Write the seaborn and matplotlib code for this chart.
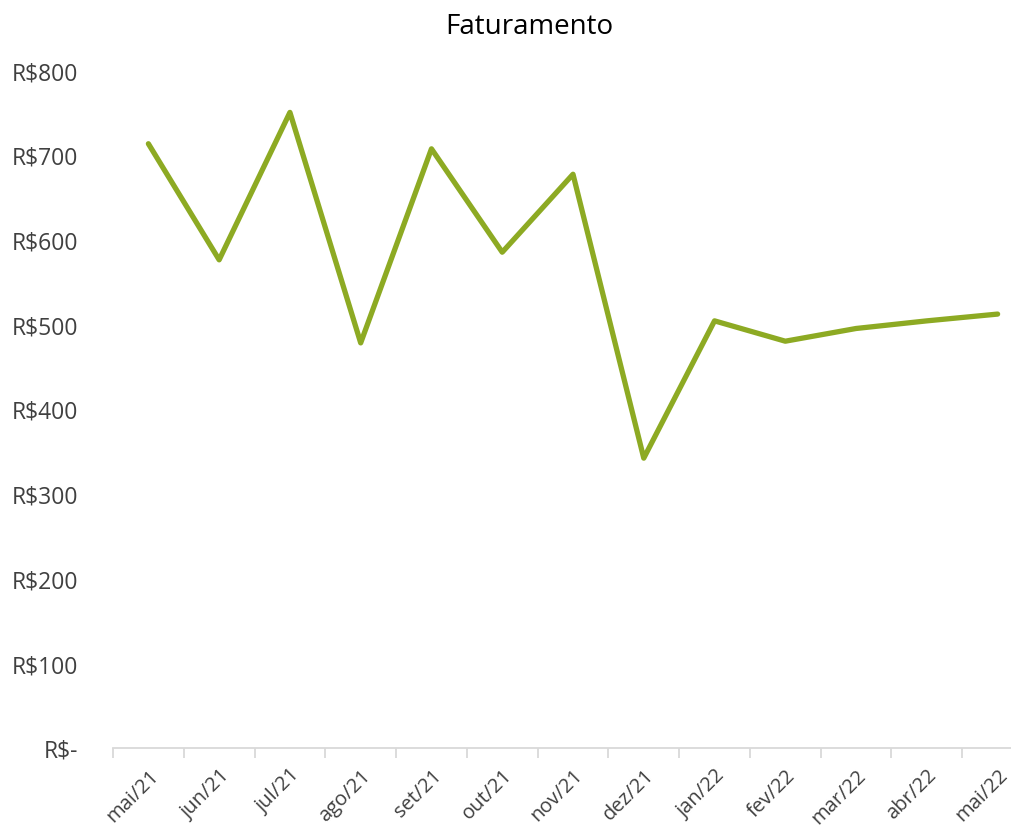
import pandas as pd
import matplotlib.pyplot as plt
import seaborn as sns
from matplotlib.ticker import FuncFormatter

# Dados
meses = ["mai/21", "jun/21", "jul/21", "ago/21", "set/21", "out/21", "nov/21",
         "dez/21", "jan/22", "fev/22", "mar/22", "abr/22", "mai/22"]
faturamento = [713, 576, 750, 478, 707, 585, 677, 342, 504, 480, 495, 504, 512]

df = pd.DataFrame({"mes": meses, "faturamento": faturamento})
df["pos"] = range(len(df))

sns.set_style("white")
plt.rcParams["font.family"] = ["Open Sans", "DejaVu Sans"]

fig = plt.figure(figsize=(10.12, 8.29), dpi=100)
ax = fig.add_axes([113 / 1012, 1 - 749 / 829, 920 / 1012, 678 / 829])

sns.lineplot(data=df, x="pos", y="faturamento", color="#8DAA23", linewidth=3.8, ax=ax)

ax.set_xlim(-0.5, len(meses) - 0.5)
ax.set_ylim(0, 800)
ax.set_xticks(df["pos"])
ax.set_xticklabels(meses, rotation=45, ha="right", rotation_mode="anchor",
                   fontsize=14.5, color="#404040")
ax.set_xticks([i - 0.5 for i in range(len(meses) + 1)], minor=True)
ax.tick_params(axis="x", which="major", bottom=False, length=0, pad=12)
ax.tick_params(axis="x", which="minor", bottom=True, length=7, color="#D9D9D9", width=1.3)

ax.set_yticks(range(0, 801, 100))
ax.yaxis.set_major_formatter(FuncFormatter(lambda v, p: "R$-" if v == 0 else f"R${v:.0f}"))
ax.tick_params(axis="y", length=0, labelsize=16.5, labelcolor="#404040", pad=25)

for s in ["top", "right", "left"]:
    ax.spines[s].set_visible(False)
ax.spines["bottom"].set_color("#D9D9D9")
ax.spines["bottom"].set_linewidth(1.3)

ax.set_xlabel("")
ax.set_ylabel("")
fig.text(0.523, 0.968, "Faturamento", ha="center", va="center", fontsize=20, color="black")

plt.savefig("out.png", dpi=100)
